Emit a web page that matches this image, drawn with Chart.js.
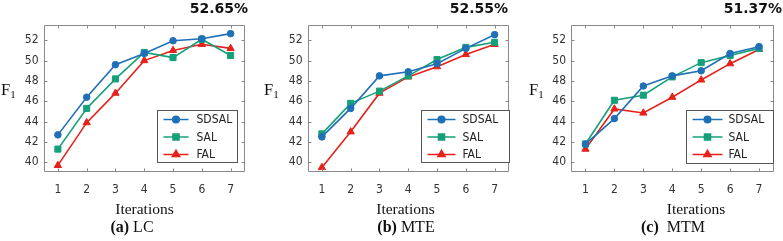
<!DOCTYPE html>
<html>
<head>
<meta charset="utf-8">
<script src="https://cdn.jsdelivr.net/npm/chart.js@4"></script>
<style>
  html, body { margin: 0; padding: 0; background: #fff; }
  #wrap { position: relative; width: 783px; height: 241px; overflow: hidden; }
  canvas { position: absolute; top: 0; }
  .pct { position: absolute; top: 0; font: bold 14px "DejaVu Sans", sans-serif; line-height: 16px; color: #111; white-space: nowrap; }
  .f1 { position: absolute; font: 16.5px "Liberation Serif", serif; line-height: 18px; color: #111; }
  .f1 sub { font-size: 11px; vertical-align: -3px; }
  .xl { position: absolute; font: 15.5px "Liberation Serif", serif; line-height: 18px; color: #111; transform: translateX(-50%); white-space: nowrap; }
  .cap { position: absolute; font: 16px "Liberation Serif", serif; line-height: 18px; color: #111; transform: translateX(-50%); white-space: nowrap; }
  .cap b { font-weight: bold; }
</style>
</head>
<body>
<div id="wrap">
  <canvas id="c1" width="261" height="241" style="left:0px"></canvas>
  <canvas id="c2" width="261" height="241" style="left:261px"></canvas>
  <canvas id="c3" width="261" height="241" style="left:522px"></canvas>

  <div class="pct" style="right:535px">52.65%</div>
  <div class="pct" style="right:275px">52.55%</div>
  <div class="pct" style="right:1px">51.37%</div>

  <div class="f1" style="left:1px;top:81px">F<sub>1</sub></div>
  <div class="f1" style="left:264px;top:81px">F<sub>1</sub></div>
  <div class="f1" style="left:529px;top:81px">F<sub>1</sub></div>

  <div class="xl" style="left:144.5px;top:200px">Iterations</div>
  <div class="xl" style="left:405.5px;top:200px">Iterations</div>
  <div class="xl" style="left:696px;top:200px">Iterations</div>

  <div class="cap" style="left:132px;top:218px"><b>(a)</b> LC</div>
  <div class="cap" style="left:406px;top:218px"><b>(b)</b> MTE</div>
  <div class="cap" style="left:673px;top:218px"><b>(c)</b>&nbsp; MTM</div>
</div>
<script>
// ---- data ----
const iterations = [1, 2, 3, 4, 5, 6, 7];
const yTicks = [40, 42, 44, 46, 48, 50, 52];
const seriesNames = ["SDSAL", "SAL", "FAL"];

const lcSDSAL = [42.7, 46.4, 49.6, 50.7, 51.95, 52.15, 52.65];
const lcSAL   = [41.3, 45.3, 48.2, 50.8, 50.3, 52.1, 50.5];
const lcFAL   = [39.7, 43.9, 46.8, 50.0, 51.0, 51.6, 51.2];

const mteSDSAL = [42.5, 45.3, 48.5, 48.9, 49.7, 51.2, 52.55];
const mteSAL   = [42.8, 45.8, 47.0, 48.5, 50.1, 51.3, 51.8];
const mteFAL   = [39.5, 43.0, 46.8, 48.4, 49.4, 50.6, 51.6];

const mtmSDSAL = [41.8, 44.3, 47.5, 48.5, 49.0, 50.7, 51.37];
const mtmSAL   = [41.8, 46.1, 46.6, 48.4, 49.8, 50.5, 51.2];
const mtmFAL   = [41.3, 45.25, 44.85, 46.4, 48.1, 49.7, 51.1];

// ---- styles ----
const styles = [
  { color: "#1f70b6", pointStyle: "circle", radius: 3.3 },
  { color: "#15a07a", pointStyle: "rect", radius: 4.3 },
  { color: "#e4221b", pointStyle: "triangle", radius: 4.2 }
];

const H = 241;
const plotTop = 25, plotBottom = 172;
const tickFont = { family: "'DejaVu Sans Condensed', 'DejaVu Sans', sans-serif", size: 12 };

const framePlugin = {
  id: "frameTicks",
  afterDatasetsDraw(chart, args, opts) {
    const ctx = chart.ctx;
    const a = chart.chartArea;
    const xs = chart.scales.x, ys = chart.scales.y;
    ctx.save();
    ctx.strokeStyle = "#8a8a8a";
    ctx.lineWidth = 1;
    const L = Math.round(a.left) + 0.5, R = Math.round(a.right) - 0.5;
    const T = Math.round(a.top) + 0.5, B = Math.round(a.bottom) - 0.5;
    ctx.beginPath();
    ctx.rect(L, T, R - L, B - T);
    ctx.stroke();
    ctx.beginPath();
    const tl = 3;
    ys.ticks.forEach(t => {
      const y = Math.round(ys.getPixelForValue(t.value)) + 0.5;
      ctx.moveTo(L, y); ctx.lineTo(L + tl, y);
      ctx.moveTo(R, y); ctx.lineTo(R - tl, y);
    });
    xs.ticks.forEach((t, i) => {
      const x = Math.round(xs.getPixelForTick(i)) + 0.5;
      ctx.moveTo(x, B); ctx.lineTo(x, B - tl);
      ctx.moveTo(x, T); ctx.lineTo(x, T + tl);
    });
    ctx.stroke();

    // legend box
    const lg = opts.legend;
    const bx = Math.round(a.right - lg.rightInset - lg.width) + 0.5;
    const by = Math.round(a.top + lg.top) + 0.5;
    ctx.fillStyle = "#fff";
    ctx.fillRect(bx, by, lg.width, lg.height);
    ctx.strokeStyle = "#555";
    ctx.strokeRect(bx, by, lg.width, lg.height);
    chart.data.datasets.forEach((ds, i) => {
      const y = by + lg.rowStart + i * lg.rowGap;
      ctx.strokeStyle = ds.borderColor;
      ctx.fillStyle = ds.backgroundColor;
      ctx.lineWidth = 1.5;
      ctx.beginPath();
      ctx.moveTo(bx + lg.lineStart, y);
      ctx.lineTo(bx + lg.lineEnd, y);
      ctx.stroke();
      Chart.helpers.drawPoint(ctx, {
        pointStyle: ds.pointStyle, radius: ds.pointRadius, rotation: 0, borderWidth: 1
      }, bx + (lg.lineStart + lg.lineEnd) / 2, y);
      ctx.fillStyle = "#222";
      ctx.font = "12px 'DejaVu Sans Condensed', 'DejaVu Sans', sans-serif";
      ctx.textBaseline = "middle";
      ctx.textAlign = "left";
      ctx.fillText(ds.label, bx + lg.textX, y + 0.5);
    });
    ctx.restore();
  }
};

function makeChart(id, values, plotLeft, plotRight, legend) {
  const W = 261;
  const datasets = values.map((v, i) => ({
    label: seriesNames[i],
    data: v,
    borderColor: styles[i].color,
    backgroundColor: styles[i].color,
    pointStyle: styles[i].pointStyle,
    pointRadius: styles[i].radius,
    pointHoverRadius: styles[i].radius,
    pointBorderWidth: 1,
    borderWidth: 1.6,
    tension: 0,
    clip: false
  }));
  return new Chart(document.getElementById(id), {
    type: "line",
    data: { labels: iterations, datasets },
    plugins: [framePlugin],
    options: {
      responsive: false,
      animation: false,
      devicePixelRatio: 1,
      layout: { padding: { top: plotTop, right: W - plotRight, left: 0, bottom: 0 } },
      plugins: {
        legend: { display: false },
        tooltip: { enabled: false },
        frameTicks: { legend }
      },
      scales: {
        x: {
          type: "category",
          offset: true,
          grid: { display: false, drawTicks: false },
          border: { display: false },
          ticks: { color: "#333", padding: 11, maxRotation: 0, font: tickFont },
          afterFit(s) { s.height = H - plotBottom; }
        },
        y: {
          min: 39.05,
          max: 53.5,
          grid: { display: false, drawTicks: false },
          border: { display: false },
          afterBuildTicks(s) { s.ticks = yTicks.map(v => ({ value: v })); },
          ticks: { color: "#333", padding: 5, font: tickFont },
          afterFit(s) { s.width = plotLeft; }
        }
      }
    }
  });
}

makeChart("c1", [lcSDSAL, lcSAL, lcFAL], 43.5, 245,
  { rightInset: 8, width: 80, top: 85, height: 52, rowStart: 9, rowGap: 17.5, lineStart: 6, lineEnd: 31, textX: 39 });
makeChart("c2", [mteSDSAL, mteSAL, mteFAL], 46.5, 248,
  { rightInset: 0, width: 88, top: 85, height: 52, rowStart: 9, rowGap: 17.5, lineStart: 6, lineEnd: 34, textX: 41 });
makeChart("c3", [mtmSDSAL, mtmSAL, mtmFAL], 49, 251.5,
  { rightInset: 1, width: 87, top: 85, height: 53, rowStart: 9, rowGap: 17.5, lineStart: 6, lineEnd: 36, textX: 42 });
</script>
</body>
</html>
